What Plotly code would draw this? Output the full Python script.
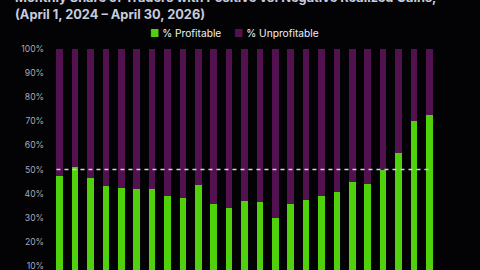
import plotly.graph_objects as go

months = ["Apr 2024", "May 2024", "Jun 2024", "Jul 2024", "Aug 2024", "Sep 2024", "Oct 2024",
          "Nov 2024", "Dec 2024", "Jan 2025", "Feb 2025", "Mar 2025", "Apr 2025", "May 2025",
          "Jun 2025", "Jul 2025", "Aug 2025", "Sep 2025", "Oct 2025", "Nov 2025", "Dec 2025",
          "Jan 2026", "Feb 2026", "Mar 2026", "Apr 2026"]
profitable = [47.5, 51.1, 46.3, 43.3, 42.2, 42.1, 41.8, 38.8, 38.2, 43.6, 35.8, 33.9, 37.1,
              36.7, 29.9, 35.8, 37.2, 39.0, 40.7, 44.7, 43.9, 50.0, 56.8, 70.0, 72.8]
unprofitable = [round(100 - v, 1) for v in profitable]
series_names = ["% Profitable", "% Unprofitable"]
tick_vals = [10, 20, 30, 40, 50, 60, 70, 80, 90, 100]
tick_text = ["10%", "20%", "30%", "40%", "50%", "60%", "70%", "80%", "90%", "100%"]
threshold = 50

GREEN = "#4fd20c"
PURPLE = "#521250"
BG = "#030305"
BAR_W = 0.42
W, H = 480, 270
ML, MR, MT, MB = 52, 43, 49, 0
PW, PH = W - ML - MR, H - MT - MB

fig = go.Figure()
fig.add_trace(go.Bar(x=months, y=profitable, name=series_names[0], marker_color=GREEN,
                     marker_line_width=0, width=BAR_W, showlegend=False))
fig.add_trace(go.Bar(x=months, y=unprofitable, name=series_names[1], marker_color=PURPLE,
                     marker_line_width=0, width=BAR_W, showlegend=False))

fig.add_shape(type="line", xref="x", yref="y", x0=-BAR_W / 2, x1=len(months) - 1 + BAR_W / 2,
              y0=threshold, y1=threshold,
              line=dict(color="#d4d0e0", width=1.5, dash="4px,4px"))

# legend row (colored square + label)
for name, color, px in [(series_names[0], GREEN, 148), (series_names[1], PURPLE, 232)]:
    fig.add_annotation(
        xref="paper", yref="paper", x=(px - ML) / PW, y=(H - 33 - MB) / PH,
        xanchor="left", yanchor="middle", showarrow=False,
        text=f'<span style="color:{color}">■</span> {name}',
        font=dict(size=10.2, color="#f0f0f4"),
    )

fig.update_layout(
    width=W, height=H,
    paper_bgcolor=BG, plot_bgcolor=BG,
    barmode="stack",
    margin=dict(l=ML, r=MR, t=MT, b=MB),
    font=dict(family="Inter, Noto Sans, sans-serif", color="#e8e8ee"),
    title=dict(
        text="<b>Monthly Share of Traders with Positive vs. Negative Realized Gains,</b><br><b>(April 1, 2024 – April 30, 2026)</b>",
        font=dict(size=12.8, color="#c7ccdf"),
        xref="container", x=15 / W, xanchor="left",
        yref="container", y=1 - 2 / H, yanchor="bottom",
    ),
    showlegend=False,
    xaxis=dict(showticklabels=False, showgrid=False, zeroline=False, showline=False,
               automargin=False, range=[-0.5, len(months) - 0.5]),
    yaxis=dict(range=[8.3, 100], tickvals=tick_vals, ticktext=tick_text, showgrid=False,
               zeroline=False, showline=False, ticks="", automargin=False,
               ticklabeloverflow="allow",
               tickfont=dict(size=8.6, color="#a8a8b4"), ticklabelstandoff=7),
)

fig.write_html("out.html")
